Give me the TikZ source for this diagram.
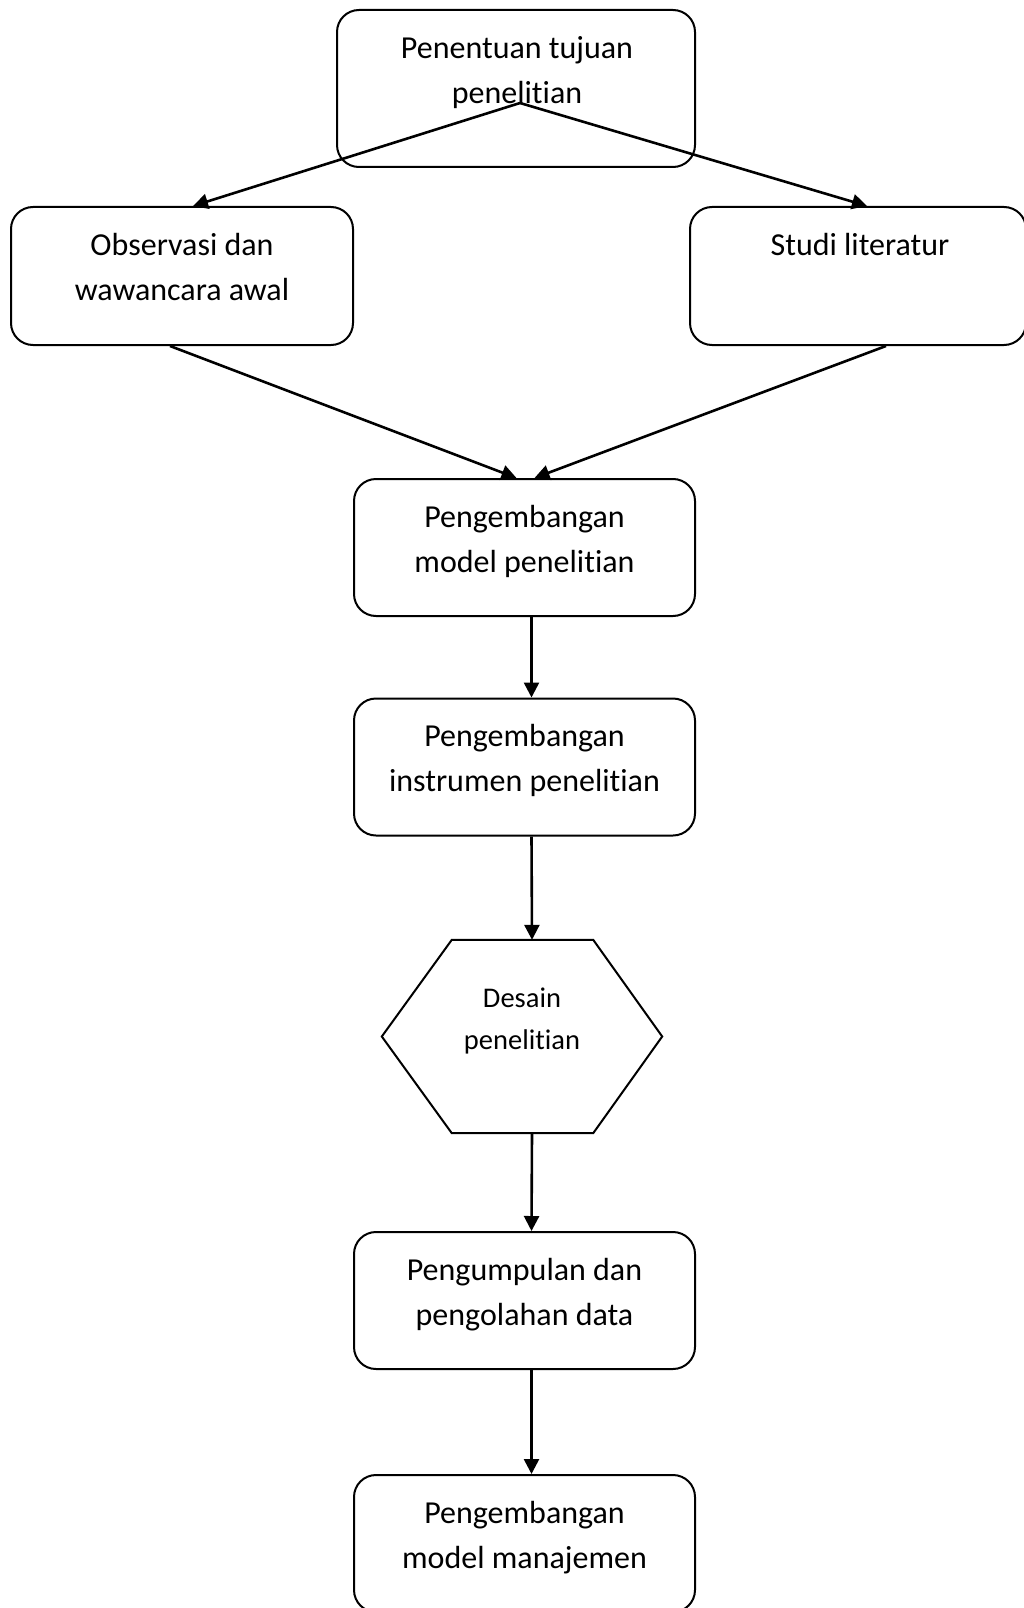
\documentclass[tikz,border=0pt]{standalone}
\usepackage{fontspec}
\setmainfont{Carlito}[Ligatures=NoCommon]
\usetikzlibrary{arrows.meta,calc}
\begin{document}
\begin{tikzpicture}[x=1pt,y=-1pt,
  box/.style={draw,line width=2pt,rounded corners=22pt,minimum width=341pt,minimum height=137pt,inner sep=0pt},
  txt/.style={anchor=north,align=center,inner sep=0pt,font=\fontsize{32}{45}\selectfont},
  htxt/.style={anchor=north,align=center,inner sep=0pt,font=\fontsize{28.5}{42}\selectfont},
  shp/.style={draw,line width=2pt,line join=miter},
  arr/.style={line width=2.6pt,-{Triangle[length=15pt,width=15pt]}}]
\useasboundingbox (0,0) rectangle (1024,1608);
\node[box,minimum width=358pt,minimum height=157pt] (top) at (516,88.5) {};
\node[box,minimum width=342pt,minimum height=138pt] (obs) at (182,276) {};
\node[box,minimum width=336pt,minimum height=138pt] (lit) at (858,276) {};
\node[box] (pmp) at (524.5,547.5) {};
\node[box] (pip) at (524.5,767) {};
\node[minimum width=280pt,minimum height=193pt,inner sep=0pt] (des) at (522,1036.5) {};
\draw[shp] (des.west) -- ($(des.north west)+(70,0)$) -- ($(des.north east)+(-69,0)$) -- (des.east) -- ($(des.south east)+(-69,0)$) -- ($(des.south west)+(70,0)$) -- cycle;
\node[box] (pdp) at (524.5,1300.5) {};
\node[box] (pmm) at (524.5,1543.5) {};
\node[txt] at ($(top.north)+(1,27)$) {Penentuan tujuan\\penelitian};
\node[txt] at ($(obs.north)+(0,27)$) {Observasi dan\\wawancara awal};
\node[txt] at ($(lit.north)+(2,27)$) {Studi literatur};
\node[txt] at ($(pmp.north)+(0,27)$) {Pengembangan\\model penelitian};
\node[txt] at ($(pip.north)+(0,27)$) {Pengembangan\\instrumen penelitian};
\node[htxt] at ($(des.north)+(0,48)$) {Desain\\penelitian};
\node[txt] at ($(pdp.north)+(0,27)$) {Pengumpulan dan\\pengolahan data};
\node[txt] at ($(pmm.north)+(0,27)$) {Pengembangan\\model manajemen};
\coordinate (fork) at (520,103);
\draw[arr] (fork) -- ($(obs.north)+(11,0)$);
\draw[arr] (fork) -- ($(lit.north)+(9,0)$);
\draw[arr] ($(obs.south)+(-12,0)$) -- ($(pmp.north)+(-8,0)$);
\draw[arr] ($(lit.south)+(28,0)$) -- ($(pmp.north)+(10,0)$);
\draw[arr] ($(pmp.south)+(7,0)$) -- ($(pip.north)+(7,0)$);
\draw[arr] ($(pip.south)+(7,0)$) -- ($(des.north)+(10,0)$);
\draw[arr] ($(des.south)+(10,0)$) -- ($(pdp.north)+(7,0)$);
\draw[arr] ($(pdp.south)+(7,0)$) -- ($(pmm.north)+(7,0)$);
\end{tikzpicture}
\end{document}
